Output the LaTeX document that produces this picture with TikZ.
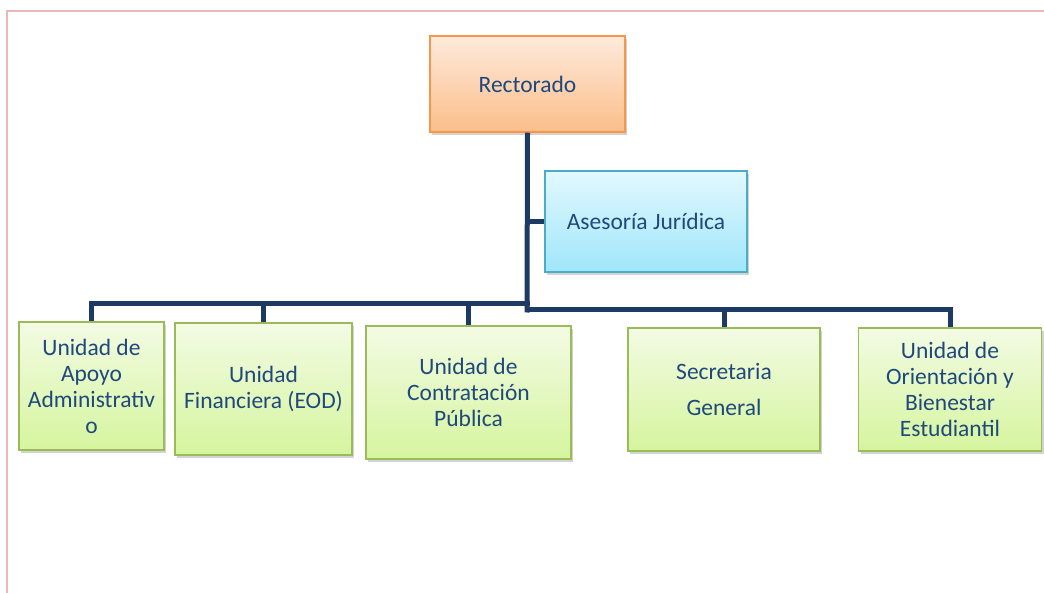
\documentclass[tikz,border=0pt]{standalone}
\usepackage{fontspec}
\setmainfont{Carlito}
\usetikzlibrary{shadows}
\definecolor{navy}{HTML}{1C3A63}
\definecolor{txt}{HTML}{1F497D}
\definecolor{orgtop}{HTML}{FEEADC}
\definecolor{orgbot}{HTML}{FBBE8A}
\definecolor{orgline}{HTML}{F79646}
\definecolor{cyantop}{HTML}{E2F8FE}
\definecolor{cyanbot}{HTML}{A0E6FA}
\definecolor{cyanline}{HTML}{4BACC6}
\definecolor{grtop}{HTML}{F3FBE4}
\definecolor{grbot}{HTML}{D5F59E}
\definecolor{grline}{HTML}{9BBB59}
\definecolor{pinkline}{HTML}{E9B9B9}
\tikzset{
  box/.style={draw, line width=1.5pt, align=center, inner sep=0pt,
    font=\fontsize{23.5}{26}\selectfont, text=txt,
    drop shadow={opacity=0.35, shadow xshift=2pt, shadow yshift=-3pt}},
  orgbox/.style={box, draw=orgline, top color=orgtop, bottom color=orgbot},
  cyanbox/.style={box, draw=cyanline, top color=cyantop, bottom color=cyanbot},
  grbox/.style={box, draw=grline, top color=grtop, bottom color=grbot},
  conn/.style={draw=navy, line width=5pt},
}
\begin{document}
\begin{tikzpicture}[x=1pt,y=-1pt]
\useasboundingbox (0,0) rectangle (1044,593);
\draw[pinkline, line width=2pt] (7,593) -- (7,11) -- (1044,11);

\node[orgbox, minimum width=195pt, minimum height=96pt] (rect) at (527.5,84) {Rectorado};
\node[cyanbox, minimum width=202pt, minimum height=101pt] (ase) at (646,221.5) {Asesoría Jurídica};

\node[grbox, minimum width=145pt, minimum height=128pt] (u1) at (91.5,386) {Unidad de\\Apoyo\\Administrativ\\o};
\node[grbox, minimum width=177pt, minimum height=132pt] (u2) at (263.5,389) {Unidad\\Financiera (EOD)};
\node[grbox, minimum width=205pt, minimum height=133pt] (u3) at (468.5,392.5) {Unidad de\\Contratación\\Pública};
\node[grbox, minimum width=192pt, minimum height=123pt] (u4) at (724,389.5) {Secretaria\\[10pt]General};
\node[grbox, minimum width=183pt, minimum height=123pt] (u5) at (950,389.5) {Unidad de\\Orientación y\\Bienestar\\Estudiantil};

\coordinate (jl) at (527,304);
\coordinate (jr) at (527,310);

\draw[conn] (rect.south) -- ([yshift=-2.5pt]jr);
\draw[conn] (rect.south |- ase.west) -- (ase.west);
\draw[conn] ([xshift=2.5pt]jl) -| (u1.north);
\draw[conn] (jl) -| (u2.north);
\draw[conn] (jl) -| (u3.north);
\draw[conn] ([xshift=-2.5pt]jr) -| (u5.north);
\draw[conn] (jr) -| (u4.north);
\end{tikzpicture}
\end{document}
